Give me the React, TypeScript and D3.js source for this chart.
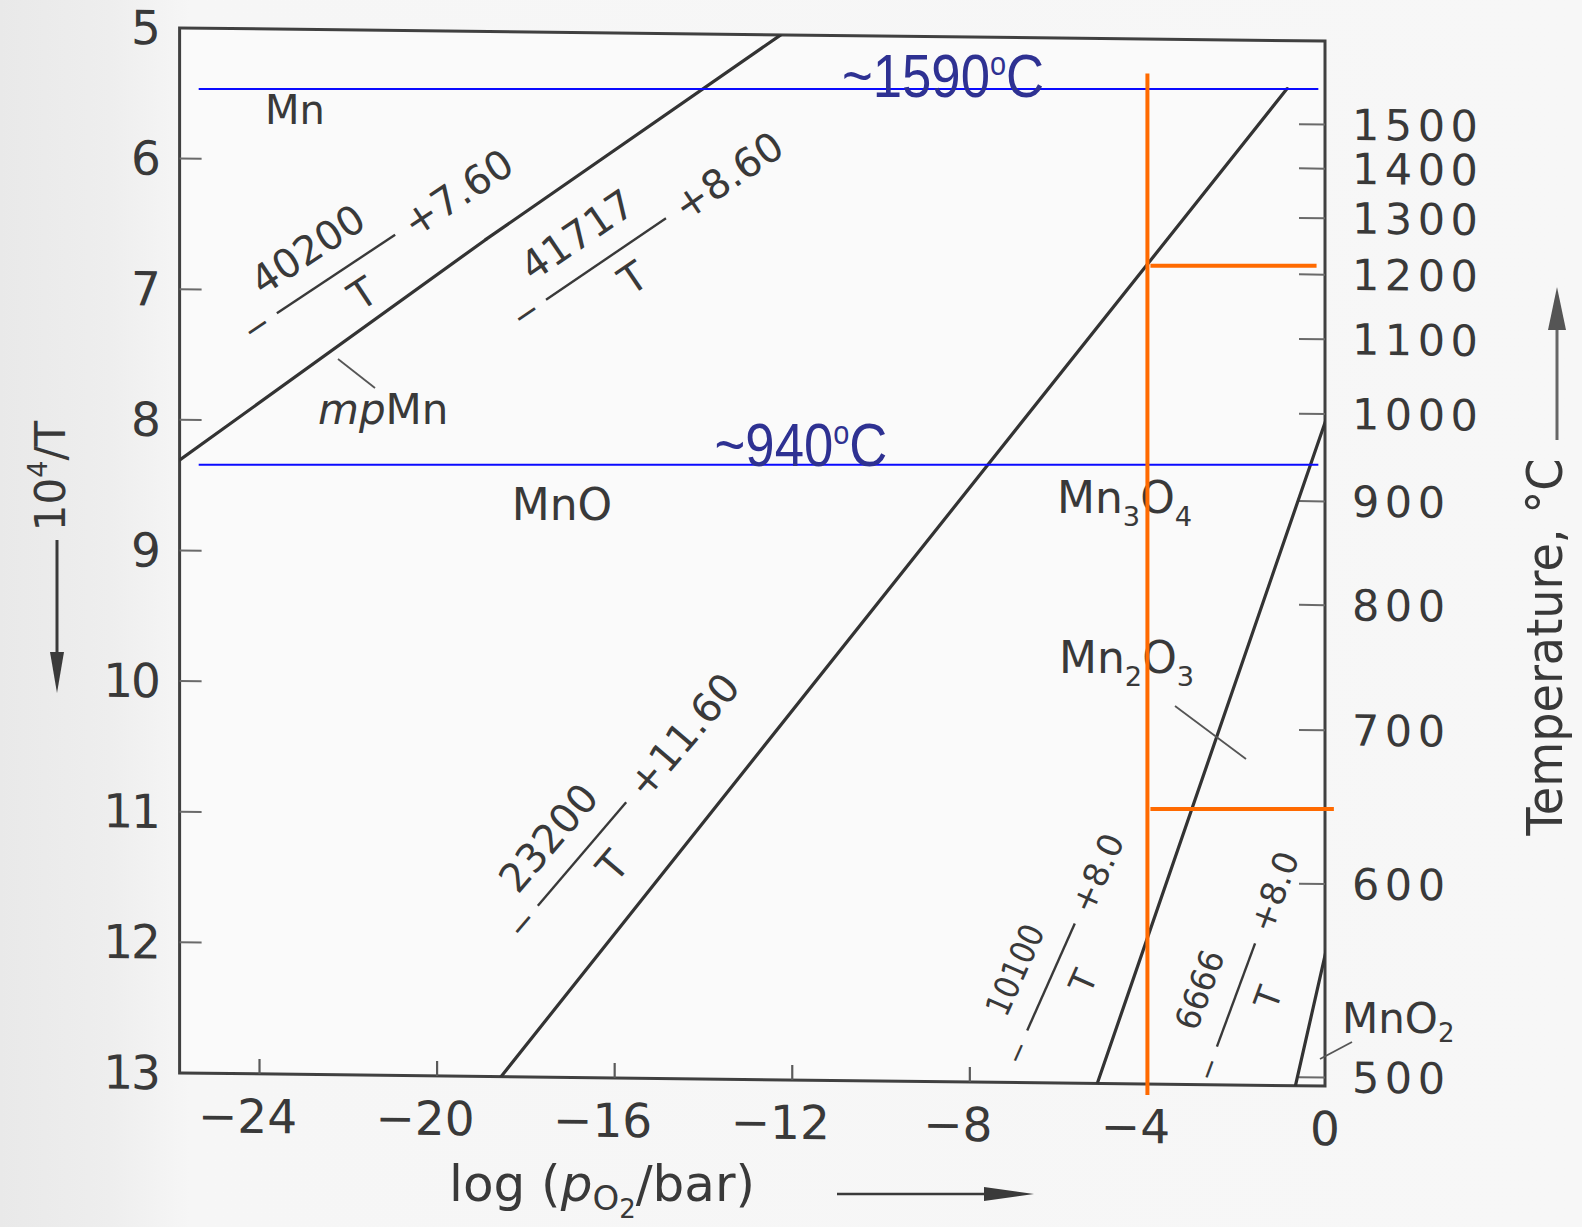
import React from 'react';
import * as d3 from 'd3';

// ---- axis values ----
const invTTicks = [5, 6, 7, 8, 9, 10, 11, 12, 13]; // 10^4 / T  (K^-1)
const tempTicksC = [500, 600, 700, 800, 900, 1000, 1100, 1200, 1300, 1400, 1500];
const logPO2Ticks = [-24, -20, -16, -12, -8, -4, 0];
const logPO2Extent = [-25.8, 0];
const invTExtent = [5, 13];

// ---- phase boundaries: log(pO2/bar) = -A/T + B ----
const boundaryA = [40200, 41717, 23200, 10100, 6666];
const boundaryB = [7.6, 8.6, 11.6, 8.0, 8.0];
const boundaryDecimals = [2, 2, 2, 1, 1];

// ---- phase fields ----
const phaseNames = ['Mn', 'MnO', 'Mn3O4', 'Mn2O3', 'MnO2'];

// ---- highlighted temperatures (°C) ----
const markerTempsC = [1590, 940];
const markerLogPO2 = [-25.37, -0.15];

// ---- probe at fixed oxygen pressure ----
const probeLogPO2 = -4;
const probeTempsC = [1215, 646];
const probeRightLogPO2 = [-0.19, 0.2];
const probeSpanC = [1632, 492];

const W = 1582;
const H = 1227;
const INK = '#393939';
const SCAN_FONT = '"DejaVu Sans", "Liberation Sans", sans-serif';
const NOTE_FONT = '"Liberation Sans", Arial, sans-serif';
const BLUE = '#0a0aff';
const BLUE_TEXT = '#2e3192';
const ORANGE = '#ff6a00';

const SKEW = 0.0114;
const SKEW_CX = 750;

const invT = (c: number) => 1e4 / (c + 273.15);

function Chem({ formula, size, drop = 0.3 }: { formula: string; size: number; drop?: number }) {
  const parts = formula.match(/[A-Za-z]+|\d+/g) || [];
  let sub = false;
  return (
    <>
      {parts.map((p, i) => {
        const isNum = /\d/.test(p);
        let dy = 0;
        if (isNum && !sub) {
          dy = size * drop;
          sub = true;
        } else if (!isNum && sub) {
          dy = -size * drop;
          sub = false;
        }
        return (
          <tspan key={i} dy={dy} fontSize={isNum ? size * 0.62 : size}>
            {p}
          </tspan>
        );
      })}
    </>
  );
}

function FractionLabel({
  cx, cy, angle, len, size, num, cst, numLength,
}: {
  cx: number; cy: number; angle: number; len: number; size: number;
  num: string; cst: string; numLength?: number;
}) {
  return (
    <g transform={`translate(${cx},${cy}) rotate(${angle})`} fill={INK} fontFamily={SCAN_FONT} fontSize={size}>
      <text x={-len / 2 - 24} y={0} textAnchor="middle" dominantBaseline="central" fontSize={size * 0.8}>−</text>
      <line x1={-len / 2} x2={len / 2} y1={0} y2={0} stroke={INK} strokeWidth={2.4} />
      <text
        x={-0.07 * len}
        y={-36}
        textAnchor="middle"
        dominantBaseline="central"
        {...(numLength ? { textLength: numLength, lengthAdjust: 'spacingAndGlyphs' } : {})}
      >
        {num}
      </text>
      <text x={0.08 * len} y={31} textAnchor="middle" dominantBaseline="central">T</text>
      <text x={len / 2 + 14} y={0} dominantBaseline="central">+{cst}</text>
    </g>
  );
}

export default function App() {
  const x = d3.scaleLinear().domain(logPO2Extent).range([179.6, 1325]);
  const y = d3.scaleLinear().domain(invTExtent).range([34.5, 1079.5]);
  const line = d3.line<[number, number]>().x((d) => x(d[0])).y((d) => y(d[1]));

  const logP = (i: number, v: number) => -boundaryA[i] * v / 1e4 + boundaryB[i];

  // melting point of Mn: where the two Mn/MnO expressions meet
  const vMp = ((boundaryB[1] - boundaryB[0]) / (boundaryA[1] - boundaryA[0])) * 1e4;
  const vTop = invT(markerTempsC[0]);
  const ranges: [number, number][] = [
    [vMp, invTExtent[1]],
    [invTExtent[0], vMp],
    [vTop, invTExtent[1]],
    [invTExtent[0], invTExtent[1]],
    [invTExtent[0], invTExtent[1]],
  ];
  const boundaryPaths = ranges.map(([v0, v1], i) =>
    line([
      [logP(i, v0), v0],
      [logP(i, v1), v1],
    ]) as string
  );

  const x0 = x.range()[0];
  const x1 = x.range()[1];
  const yTop = y(invTExtent[0]);
  const yBot = y(invTExtent[1]);

  // overlays are referenced to the temperature scale on the right-hand axis
  const overlayY = (v: number) => y(v) + SKEW * (x(0) - SKEW_CX);

  const fmtTick = (v: number) => (v < 0 ? `−${Math.abs(v)}` : `${v}`);

  const labels = [
    { cx: 336, cy: 274, angle: -33.6, len: 142, size: 40 },
    { cx: 606, cy: 259, angle: -34.2, len: 145, size: 40 },
    { cx: 582, cy: 854, angle: -49.5, len: 136, size: 40 },
    { cx: 1051, cy: 977, angle: -66, len: 117, size: 34, numLength: 96 },
    { cx: 1236, cy: 995, angle: -69.7, len: 110, size: 34, numLength: 82 },
  ];

  return (
    <svg
      width={W}
      height={H}
      viewBox={`0 0 ${W} ${H}`}
      style={{ position: 'absolute', left: 0, top: 0, display: 'block' }}
    >
      <defs>
        <linearGradient id="paper" x1="0" x2="1" y1="0" y2="0">
          <stop offset="0" stopColor="#e9e9e9" />
          <stop offset="0.07" stopColor="#eeeeee" />
          <stop offset="0.12" stopColor="#f6f6f6" />
          <stop offset="1" stopColor="#f7f7f7" />
        </linearGradient>
        <clipPath id="plotClip">
          <rect x={x0} y={yTop} width={x1 - x0} height={yBot - yTop} />
        </clipPath>
      </defs>
      <rect x={0} y={0} width={W} height={H} fill="url(#paper)" />

      {/* scanned diagram: frame, axes and phase boundaries */}
      <g transform={`matrix(1, ${SKEW}, 0, 1, 0, ${-SKEW * SKEW_CX})`}>
        <rect x={x0} y={yTop} width={x1 - x0} height={yBot - yTop} fill="#fafafa" stroke="#404040" strokeWidth={3} />

        {/* left axis: 10^4/T */}
        {invTTicks.filter((v) => v > invTExtent[0] && v < invTExtent[1]).map((v) => (
          <line key={`lt${v}`} x1={x0} x2={x0 + 22} y1={y(v)} y2={y(v)} stroke="#6a6a6a" strokeWidth={2} />
        ))}
        {invTTicks.map((v) => (
          <text
            key={`ll${v}`}
            x={159}
            y={y(v)}
            textAnchor="end"
            dominantBaseline="central"
            fontFamily={SCAN_FONT}
            fontSize={47}
            letterSpacing={-2}
            fill={INK}
          >
            {v}
          </text>
        ))}

        {/* right axis: temperature */}
        {tempTicksC.map((c) => (
          <g key={`rt${c}`}>
            <line x1={x1 - 26} x2={x1} y1={y(invT(c))} y2={y(invT(c))} stroke="#6a6a6a" strokeWidth={2} />
            <text
              x={1352}
              y={y(invT(c))}
              dominantBaseline="central"
              fontFamily={SCAN_FONT}
              fontSize={43}
              letterSpacing={5.5}
              fill={INK}
            >
              {c}
            </text>
          </g>
        ))}

        {/* bottom axis: log pO2 */}
        {logPO2Ticks.filter((v) => v < 0).map((v) => (
          <line key={`bt${v}`} x1={x(v)} x2={x(v)} y1={yBot} y2={yBot - 15} stroke="#5a5a5a" strokeWidth={2.2} />
        ))}
        {logPO2Ticks.map((v) => (
          <text
            key={`bl${v}`}
            x={x(v) + (v < 0 ? -12 : 0)}
            y={1122}
            textAnchor="middle"
            dominantBaseline="central"
            fontFamily={SCAN_FONT}
            fontSize={47}
            fill={INK}
          >
            {fmtTick(v)}
          </text>
        ))}

        {/* phase boundaries */}
        <g clipPath="url(#plotClip)">
          {boundaryPaths.map((d, i) => (
            <path key={`b${i}`} d={d} fill="none" stroke="#333" strokeWidth={3.2} strokeLinecap="round" />
          ))}
        </g>
      </g>

      {/* phase field names */}
      <g fill={INK} fontFamily={SCAN_FONT}>
        <text x={295} y={124} textAnchor="middle" fontSize={40}>{phaseNames[0]}</text>
        <text x={562} y={520} textAnchor="middle" fontSize={44}>{phaseNames[1]}</text>
        <text x={1057} y={513} fontSize={44}><Chem formula={phaseNames[2]} size={44} /></text>
        <text x={1059} y={673} fontSize={44}><Chem formula={phaseNames[3]} size={44} /></text>
        <text x={1342} y={1033} fontSize={42}><Chem formula={phaseNames[4]} size={42} drop={0.22} /></text>
        <text x={318} y={424} fontSize={42}>
          <tspan fontStyle="italic">mp</tspan>
          <tspan>{phaseNames[0]}</tspan>
        </text>
      </g>
      <g stroke="#555" strokeWidth={1.8}>
        <line x1={375} y1={388} x2={338} y2={359} />
        <line x1={1175} y1={706} x2={1246} y2={759} />
        <line x1={1352} y1={1042} x2={1320} y2={1059} />
      </g>

      {/* boundary equations */}
      {labels.map((l, i) => (
        <FractionLabel
          key={`f${i}`}
          {...l}
          num={`${boundaryA[i]}`}
          cst={boundaryB[i].toFixed(boundaryDecimals[i])}
        />
      ))}

      {/* axis titles */}
      <g fill={INK} fontFamily={SCAN_FONT}>
        <g transform="translate(50,476) rotate(-90)">
          <text textAnchor="middle" dominantBaseline="central" fontSize={42}>
            10<tspan dy={-13} fontSize={27}>4</tspan>
            <tspan dy={13} fontSize={42}>/T</tspan>
          </text>
        </g>
        <g transform="translate(1545,647) rotate(-90)">
          <text
            textAnchor="middle"
            dominantBaseline="central"
            fontSize={50}
            textLength={377}
            lengthAdjust="spacingAndGlyphs"
          >
            Temperature, °C
          </text>
        </g>
        <text x={449} y={1201} fontSize={50}>
          log (<tspan fontStyle="italic">p</tspan>
          <tspan dy={9} fontSize={34}>O</tspan>
          <tspan dy={8} fontSize={26}>2</tspan>
          <tspan dy={-17} fontSize={50}>/bar)</tspan>
        </text>
      </g>
      <g stroke="#3a3a3a" fill="#3a3a3a">
        <line x1={57} y1={540} x2={57} y2={660} strokeWidth={3} />
        <polygon points="57,693 50,652 64,652" stroke="none" />
        <line x1={1557} y1={440} x2={1557} y2={322} strokeWidth={3} stroke="#666" />
        <polygon points="1557,287 1548,330 1566,330" stroke="none" fill="#555" />
        <line x1={837} y1={1194} x2={990} y2={1194} strokeWidth={2.5} />
        <polygon points="1034,1194 984,1187 984,1201" stroke="none" />
      </g>

      {/* highlighted temperatures */}
      {markerTempsC.map((c, i) => {
        const yy = overlayY(invT(c));
        const tx = i === 0 ? 943 : 801;
        const ty = i === 0 ? yy + 8 : yy + 1;
        return (
          <g key={`m${c}`}>
            <line x1={x(markerLogPO2[0])} x2={x(markerLogPO2[1])} y1={yy} y2={yy} stroke={BLUE} strokeWidth={2} />
            <text
              transform={`translate(${tx},${ty}) scale(0.85,1)`}
              textAnchor="middle"
              fontFamily={NOTE_FONT}
              fontSize={62}
              fill={BLUE_TEXT}
            >
              ~{c}
              <tspan dy={-22} fontSize={34}>o</tspan>
              <tspan dy={22}>C</tspan>
            </text>
          </g>
        );
      })}

      {/* probe at fixed log pO2 */}
      <g stroke={ORANGE} strokeWidth={4}>
        <line
          x1={x(probeLogPO2)}
          x2={x(probeLogPO2)}
          y1={overlayY(invT(probeSpanC[0]))}
          y2={overlayY(invT(probeSpanC[1]))}
        />
        {probeTempsC.map((c, i) => (
          <line
            key={`p${c}`}
            x1={x(probeLogPO2) + 3}
            x2={x(probeRightLogPO2[i])}
            y1={overlayY(invT(c))}
            y2={overlayY(invT(c))}
          />
        ))}
      </g>
    </svg>
  );
}
